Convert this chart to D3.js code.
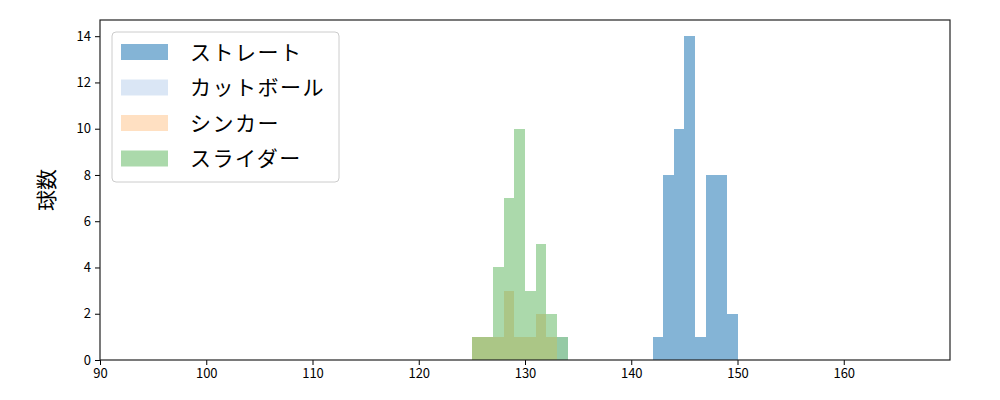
<!DOCTYPE html>
<html>
<head>
<meta charset="utf-8">
<title>球数ヒストグラム</title>
<script src="https://cdnjs.cloudflare.com/ajax/libs/d3/7.8.5/d3.min.js"></script>
<style>
  body { margin: 0; background: #fff; }
  text { font-family: "Noto Sans CJK JP", "DejaVu Sans", sans-serif; }
</style>
</head>
<body>
<script>
  //球種ごとのヒストグラム (ビン左端と本数, 幅 1km/h)
  var pitchNames = ["ストレート", "カットボール", "シンカー", "スライダー"];
  var pitchColors = ["#1f77b4", "#aec7e8", "#ffbb78", "#2ca02c"];
  var pitchAlpha = [0.55, 0.45, 0.45, 0.4];

  var straightBins = [142, 143, 144, 145, 146, 147, 148, 149];
  var straightCounts = [1, 8, 10, 14, 1, 8, 8, 2];
  var cutBins = [133];
  var cutCounts = [1];
  var sinkerBins = [125, 126, 127, 128, 129, 130, 131, 132];
  var sinkerCounts = [1, 1, 1, 3, 1, 1, 2, 1];
  var sliderBins = [125, 126, 127, 128, 129, 130, 131, 132, 133];
  var sliderCounts = [1, 1, 4, 7, 10, 3, 5, 2, 1];

  var xTicks = [90, 100, 110, 120, 130, 140, 150, 160];
  var yTicks = [0, 2, 4, 6, 8, 10, 12, 14];

  var width = 1000, height = 400;
  var margin = {top: 20, right: 50, bottom: 40, left: 100};

  var x = d3.scaleLinear().domain([90, 170]).range([margin.left, width - margin.right]);
  var y = d3.scaleLinear().domain([0, 14.7]).range([height - margin.bottom, margin.top]);

  var svg = d3.select("body").append("svg")
      .attr("width", width)
      .attr("height", height);

  var series = [
    {bins: straightBins, counts: straightCounts},
    {bins: cutBins, counts: cutCounts},
    {bins: sinkerBins, counts: sinkerCounts},
    {bins: sliderBins, counts: sliderCounts}
  ];

  series.forEach(function(s, k) {
    var rows = s.bins.map(function(b, i) { return {x0: b, x1: b + 1, n: s.counts[i]}; });
    svg.append("g")
      .attr("fill", pitchColors[k])
      .attr("fill-opacity", pitchAlpha[k])
      .selectAll("rect")
      .data(rows)
      .enter()
      .append("rect")
      .attr("shape-rendering", "crispEdges")
      .attr("x", function(d) { return x(d.x0); })
      .attr("width", function(d) { return x(d.x1) - x(d.x0); })
      .attr("y", function(d) { return y(d.n); })
      .attr("height", function(d) { return y(0) - y(d.n); });
  });

  // 軸
  var xAxis = svg.append("g")
      .attr("transform", "translate(0," + (height - margin.bottom) + ")")
      .call(d3.axisBottom(x).tickValues(xTicks).tickSize(5).tickPadding(4));
  var yAxis = svg.append("g")
      .attr("transform", "translate(" + margin.left + ",0)")
      .call(d3.axisLeft(y).tickValues(yTicks).tickSize(5).tickPadding(4));
  [xAxis, yAxis].forEach(function(a) {
    a.select(".domain").remove();
    a.selectAll("text").attr("font-size", 13).attr("fill", "#000");
    a.selectAll("line").attr("stroke", "#000");
  });

  // 枠
  svg.append("rect")
    .attr("x", margin.left)
    .attr("y", margin.top)
    .attr("width", width - margin.left - margin.right)
    .attr("height", height - margin.top - margin.bottom)
    .attr("fill", "none")
    .attr("stroke", "#222")
    .attr("stroke-width", 1.2);

  svg.append("text")
    .attr("transform", "translate(54," + (margin.top + (height - margin.top - margin.bottom) / 2) + ") rotate(-90)")
    .attr("text-anchor", "middle")
    .attr("font-size", 21)
    .text("球数");

  // 凡例
  var legend = svg.append("g").attr("transform", "translate(112,32)");
  legend.append("rect")
    .attr("width", 227).attr("height", 150)
    .attr("rx", 4)
    .attr("fill", "#fff").attr("fill-opacity", 0.8)
    .attr("stroke", "#ccc");
  pitchNames.forEach(function(name, i) {
    var row = legend.append("g").attr("transform", "translate(0," + (20 + i * 35.5) + ")");
    row.append("rect")
      .attr("x", 9).attr("y", -8)
      .attr("width", 47).attr("height", 16)
      .attr("fill", pitchColors[i])
      .attr("fill-opacity", pitchAlpha[i]);
    row.append("text")
      .attr("x", 78).attr("y", 0)
      .attr("dy", "0.36em")
      .attr("font-size", 21)
      .attr("letter-spacing", 1.5)
      .text(name);
  });
</script>
</body>
</html>
